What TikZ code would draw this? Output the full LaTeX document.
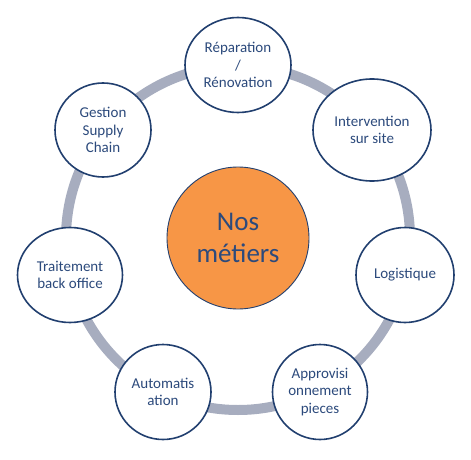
\documentclass[tikz,border=0pt]{standalone}
\usepackage{fontspec}
\setmainfont{Carlito}
\usepackage{tikz}
\usetikzlibrary{shapes.geometric}
\definecolor{bordblue}{HTML}{213F6F}
\definecolor{txtblue}{HTML}{2C4A7C}
\definecolor{ringgray}{HTML}{A7ADBF}
\definecolor{nosorange}{HTML}{F79646}
\tikzset{
	metier/.style={ellipse, draw=bordblue, line width=1.6pt, fill=white, text=txtblue, align=center, inner sep=0pt, font=\fontsize{15}{17.5}\selectfont},
	centre/.style={circle, draw=bordblue, line width=0.9pt, fill=nosorange, text=txtblue, align=center, inner sep=0pt, minimum size=142pt, font=\fontsize{27}{32}\selectfont},
	anneau/.style={draw=ringgray, line width=10pt}
}
\begin{document}
\begin{tikzpicture}[x=1pt,y=-1pt]
				\useasboundingbox (0,0) rectangle (471,460);
				\coordinate (C) at (238,238);
				\draw[anneau] (C) circle (172pt);
				
				\node[centre] (N) at (C) {Nos\\métiers};
				
				\node[metier, minimum width=106pt, minimum height=95pt] (rep) at (238,65) {Réparation\\/\\Rénovation};
				\node[metier, minimum width=118pt, minimum height=102pt] (int) at (372,130) {Intervention\\sur site};
				\node[metier, minimum width=98pt, minimum height=95pt] (log) at (405,275) {Logistique};
				\node[metier, minimum width=95pt, minimum height=95pt] (app) at (320,392) {Approvisi\\onnement\\pieces};
				\node[metier, minimum width=96pt, minimum height=95pt] (aut) at (163,392) {Automatis\\ation};
				\node[metier, minimum width=105pt, minimum height=95pt] (tra) at (70,275) {Traitement\\back office};
				\node[metier, minimum width=96pt, minimum height=94pt] (ges) at (103,130) {Gestion\\Supply\\Chain};
			\end{tikzpicture}
\end{document}
